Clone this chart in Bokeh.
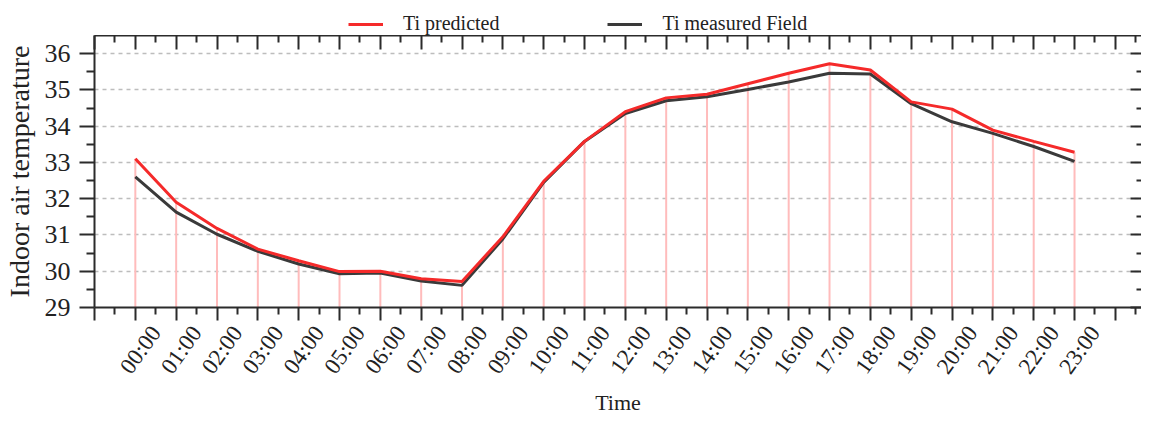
from bokeh.plotting import figure
from bokeh.layouts import column
from bokeh.models import (LinearAxis, FixedTicker, Range1d, Legend, LegendItem,
                          ColumnDataSource, Grid)
from bokeh.embed import file_html
from bokeh.resources import INLINE

# ---- data ----
hours = list(range(24))
hour_labels = ["00:00", "01:00", "02:00", "03:00", "04:00", "05:00", "06:00", "07:00",
               "08:00", "09:00", "10:00", "11:00", "12:00", "13:00", "14:00", "15:00",
               "16:00", "17:00", "18:00", "19:00", "20:00", "21:00", "22:00", "23:00"]
ti_predicted = [33.10, 31.90, 31.18, 30.61, 30.29, 29.99, 30.00, 29.79, 29.72, 30.95,
                32.48, 33.58, 34.40, 34.78, 34.88, 35.17, 35.46, 35.72, 35.55, 34.67,
                34.47, 33.89, 33.58, 33.28]
ti_measured = [32.60, 31.63, 31.02, 30.55, 30.20, 29.93, 29.95, 29.73, 29.61, 30.89,
               32.45, 33.58, 34.35, 34.70, 34.81, 35.01, 35.22, 35.46, 35.44, 34.62,
               34.12, 33.80, 33.44, 33.03]
y_ticks = [29, 30, 31, 32, 33, 34, 35, 36]
series_names = ["Ti predicted", "Ti measured Field"]

FONT = "Liberation Serif"
AX = "#2b2b2b"
RED = "#f52a2a"
BLACK = "#3a3a3a"
TXT = "#222222"

src = ColumnDataSource(dict(x=hours, pred=ti_predicted, meas=ti_measured,
                            base=[y_ticks[0]] * len(hours)))

X_END = 24.64
p = figure(width=1141, height=382, output_backend="svg", toolbar_location=None,
           x_range=Range1d(-1, X_END), y_range=Range1d(29, 36.5),
           x_axis_type=None, y_axis_type=None,
           min_border_left=87, min_border_right=0, min_border_top=0, min_border_bottom=108,
           outline_line_color=None, background_fill_color="white", border_fill_color="white")
# shifted range used only to place the slanted hour labels like the original
p.extra_x_ranges = {"labels": Range1d(-1 - 0.5, X_END - 0.5)}

all_x = list(range(-1, 25))
xt = FixedTicker(ticks=all_x, minor_ticks=[h + 0.5 for h in range(-1, 25)])
xt_lab = FixedTicker(ticks=hours, minor_ticks=[])
yt = FixedTicker(ticks=y_ticks, minor_ticks=[v + 0.5 for v in y_ticks[:-1]])

blank_x = {h: "" for h in all_x}
blank_y = {v: "" for v in y_ticks}

# bottom axis: line + ticks
bottom = LinearAxis(ticker=xt, major_label_overrides=blank_x, major_label_standoff=0,
                    axis_line_color=AX, axis_line_width=2,
                    major_tick_line_color=AX, major_tick_line_width=2,
                    major_tick_out=13, major_tick_in=0,
                    minor_tick_line_color=AX, minor_tick_line_width=2,
                    minor_tick_out=7, minor_tick_in=0)
p.add_layout(bottom, "below")

# bottom axis: slanted hour labels + title
bottom_lab = LinearAxis(x_range_name="labels", ticker=xt_lab,
                        major_label_overrides={h: lab for h, lab in zip(hours, hour_labels)},
                        axis_label="Time", axis_label_text_font=FONT,
                        axis_label_text_font_size="22px", axis_label_text_font_style="normal",
                        axis_label_text_color=TXT, axis_label_standoff=1,
                        major_label_text_font=FONT, major_label_text_font_size="23px",
                        major_label_text_color=TXT, major_label_orientation=0.95,
                        major_label_standoff=8,
                        axis_line_color=None, major_tick_line_color=None,
                        minor_tick_line_color=None, major_tick_out=0, major_tick_in=0,
                        minor_tick_out=0, minor_tick_in=0)
p.add_layout(bottom_lab, "below")

top = LinearAxis(ticker=xt, major_label_overrides=blank_x, major_label_standoff=0,
                 axis_line_color=AX, axis_line_width=2,
                 major_tick_line_color=AX, major_tick_line_width=2,
                 major_tick_out=0, major_tick_in=14,
                 minor_tick_line_color=AX, minor_tick_line_width=2,
                 minor_tick_out=0, minor_tick_in=7)
p.add_layout(top, "above")

left = LinearAxis(ticker=yt, axis_label="Indoor air temperature",
                  axis_label_text_font=FONT, axis_label_text_font_size="28px",
                  axis_label_text_font_style="normal", axis_label_text_color=TXT,
                  axis_label_standoff=7,
                  major_label_text_font=FONT, major_label_text_font_size="26px",
                  major_label_text_color=TXT, major_label_standoff=9,
                  axis_line_color=AX, axis_line_width=2,
                  major_tick_line_color=AX, major_tick_line_width=2,
                  major_tick_out=15, major_tick_in=0,
                  minor_tick_line_color=AX, minor_tick_line_width=2,
                  minor_tick_out=8, minor_tick_in=0)
p.add_layout(left, "left")

right = LinearAxis(ticker=yt, major_label_overrides=blank_y, major_label_standoff=0,
                   axis_line_color=None,
                   major_tick_line_color=AX, major_tick_line_width=2,
                   major_tick_out=0, major_tick_in=11,
                   minor_tick_line_color=AX, minor_tick_line_width=2,
                   minor_tick_out=0, minor_tick_in=5)
p.add_layout(right, "right")

p.add_layout(Grid(dimension=1, ticker=yt, grid_line_color="#bdbdbd", grid_line_width=1.5,
                  grid_line_dash="4 4"))

# drop lines from the axis to the predicted curve
p.segment(x0="x", y0="base", x1="x", y1="pred", source=src,
          line_color="#ffbcbc", line_width=2)

p.line("x", "meas", source=src, line_color=BLACK, line_width=3)
p.line("x", "pred", source=src, line_color=RED, line_width=3)

# ---- legend strip above the plot (the series lie outside its visible range) ----
leg = figure(width=1141, height=35, output_backend="svg", toolbar_location=None,
             x_range=Range1d(0, 1), y_range=Range1d(0, 1),
             x_axis_type=None, y_axis_type=None, min_border=0,
             outline_line_color=None, background_fill_color="white",
             border_fill_color="white")
lr_pred = leg.line("x", "pred", source=src, line_color=RED, line_width=3)
lr_meas = leg.line("x", "meas", source=src, line_color=BLACK, line_width=3)
legend = Legend(items=[LegendItem(label=series_names[0], renderers=[lr_pred]),
                       LegendItem(label=series_names[1], renderers=[lr_meas])],
                orientation="horizontal", location=(254, 0),
                label_text_font=FONT, label_text_font_size="20px", label_text_color=TXT,
                glyph_width=35, glyph_height=20, label_standoff=20, spacing=108,
                padding=0, margin=0, border_line_color=None, background_fill_alpha=0)
leg.add_layout(legend, "center")

layout = column(leg, p, spacing=0)
open("out.html", "w").write(file_html(layout, INLINE))
